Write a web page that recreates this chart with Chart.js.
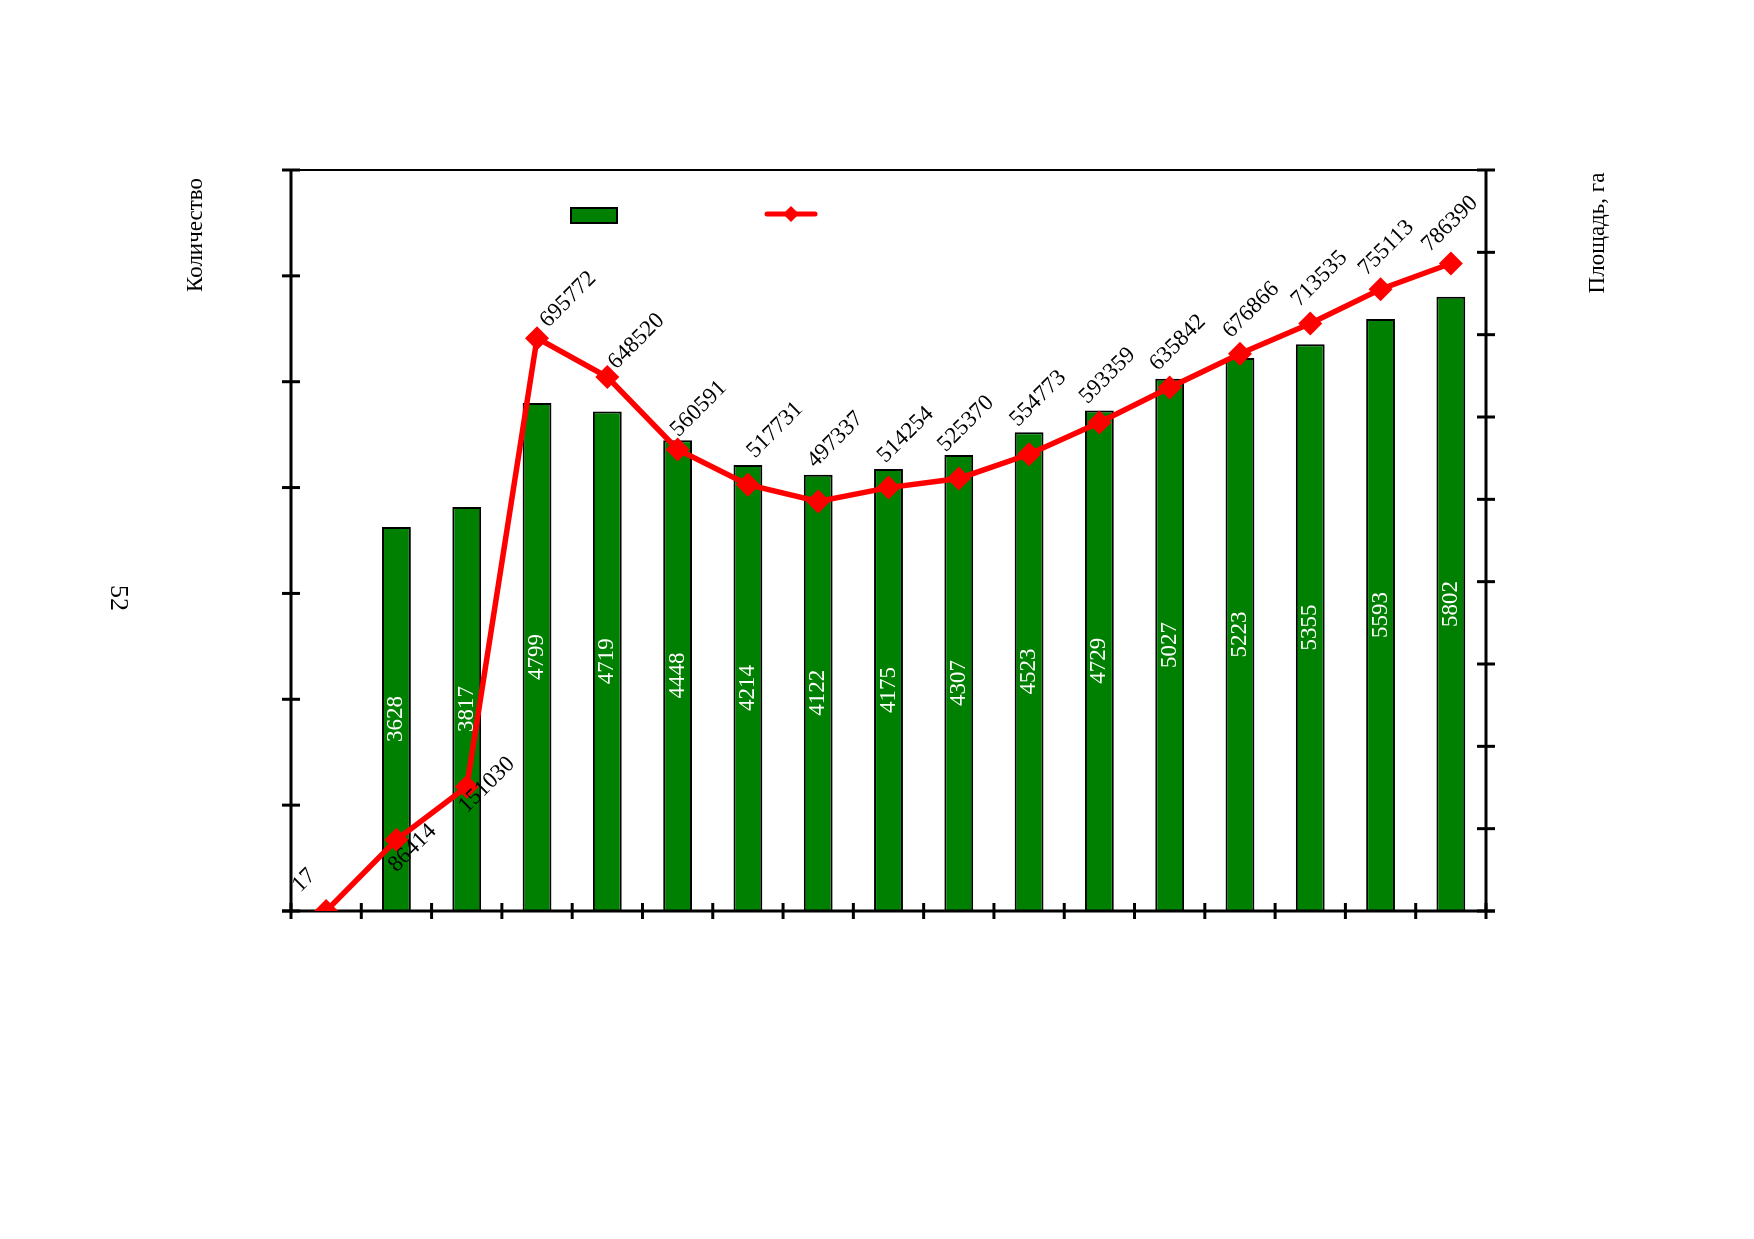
<!DOCTYPE html>
<html lang="ru">
<head>
<meta charset="utf-8">
<title>Количество и площадь</title>
<script src="https://cdn.jsdelivr.net/npm/chart.js@4.4.1/dist/chart.umd.min.js"></script>
<style>
    html, body { margin: 0; padding: 0; background: #fff; }
    #wrap { width: 1754px; height: 1239px; }
</style>
</head>
<body>
<div id="wrap"><canvas id="chart" width="1754" height="1239"></canvas></div>
<script>
// Data (no category labels are printed on the chart)
const categories = ['1', '2', '3', '4', '5', '6', '7', '8', '9', '10', '11', '12', '13', '14', '15', '16', '17'];
const countValues = [null, 3628, 3817, 4799, 4719, 4448, 4214, 4122, 4175, 4307, 4523, 4729, 5027, 5223, 5355, 5593, 5802];
const areaValues = [17, 86414, 151030, 695772, 648520, 560591, 517731, 497337, 514254, 525370, 554773, 593359, 635842, 676866, 713535, 755113, 786390];
const countRange = [0, 7000, 1000];    // min, max, step of the left axis
const areaRange = [0, 900000, 100000]; // min, max, step of the right axis

// Where each area label starts relative to its point (hand placed in the original)
const areaLabelShift = [
    [-26, -18], [0, 33], [0, 27], [11, -10], [9, -7], [1, -12], [7, -26], [-3, -33], [-3, -24],
    [-13, -26], [-11, -27], [-12, -18], [-12, -16], [-9, -15], [-11, -16], [-14, -13], [-21, -11]
];

const SERIF = '"Liberation Serif", "Times New Roman", serif';
const GREEN = '#008000';
const RED = '#ff0000';

function strokeLine(ctx, x1, y1, x2, y2) {
    ctx.beginPath();
    ctx.moveTo(x1, y1);
    ctx.lineTo(x2, y2);
    ctx.stroke();
}

function rotatedText(ctx, text, x, y, angle, font, color, align, baseline) {
    ctx.save();
    ctx.translate(x, y);
    ctx.rotate(angle);
    ctx.font = font;
    ctx.fillStyle = color;
    ctx.textAlign = align || 'center';
    ctx.textBaseline = baseline || 'middle';
    ctx.fillText(text, 0, 0);
    ctx.restore();
}

// Axes with crossing tick marks, drawn right after the bars so the line sits on top
function drawAxes(chart) {
    const ctx = chart.ctx;
    const area = chart.chartArea;
    const xs = chart.scales.x, ys = chart.scales.y, ys2 = chart.scales.y2;
    ctx.save();
    ctx.strokeStyle = '#000';
    ctx.lineWidth = 2;
    strokeLine(ctx, area.left, area.top, area.right, area.top);
    ctx.lineWidth = 3;
    strokeLine(ctx, area.left, area.top - 1, area.left, area.bottom + 1);
    strokeLine(ctx, area.right, area.top - 1, area.right, area.bottom + 1);
    strokeLine(ctx, area.left - 9, area.bottom, area.right + 9, area.bottom);

    ys.ticks.forEach(t => {
        const py = ys.getPixelForValue(t.value);
        strokeLine(ctx, area.left - 9, py, area.left + 9, py);
    });
    ys2.ticks.forEach(t => {
        const py = ys2.getPixelForValue(t.value);
        strokeLine(ctx, area.right - 9, py, area.right + 9, py);
    });
    for (let i = 0; i <= categories.length; i++) {
        const px = xs.getPixelForValue(i - 0.5);
        strokeLine(ctx, px, area.bottom - 8, px, area.bottom + 8);
    }
    ctx.restore();
}

function drawBarLabels(chart) {
    const ctx = chart.ctx;
    chart.getDatasetMeta(0).data.forEach((bar, i) => {
        if (countValues[i] == null) return;
        rotatedText(ctx, String(countValues[i]), bar.x, (bar.y + bar.base) / 2,
            -Math.PI / 2, '23px ' + SERIF, '#fff');
    });
}

function drawLineLabels(chart) {
    const ctx = chart.ctx;
    chart.getDatasetMeta(1).data.forEach((pt, i) => {
        const s = areaLabelShift[i];
        rotatedText(ctx, String(areaValues[i]), pt.x + s[0], pt.y + s[1],
            -Math.PI / 4, '23px ' + SERIF, '#000', 'left', 'alphabetic');
    });
}

// Legend keys without text, as in the original
function drawLegend(chart) {
    const ctx = chart.ctx;
    ctx.save();
    ctx.fillStyle = GREEN;
    ctx.fillRect(571, 208, 46, 15);
    ctx.strokeStyle = '#000';
    ctx.lineWidth = 2;
    ctx.strokeRect(571, 208, 46, 15);

    ctx.strokeStyle = RED;
    ctx.lineWidth = 5;
    ctx.lineCap = 'round';
    strokeLine(ctx, 767, 214, 815, 214);
    ctx.fillStyle = RED;
    ctx.beginPath();
    ctx.moveTo(791, 206);
    ctx.lineTo(799, 214);
    ctx.lineTo(791, 222);
    ctx.lineTo(783, 214);
    ctx.closePath();
    ctx.fill();
    ctx.restore();
}

function drawTitles(chart) {
    const ctx = chart.ctx;
    rotatedText(ctx, 'Количество', 196, 235, -Math.PI / 2, '23px ' + SERIF, '#000');
    rotatedText(ctx, 'Площадь, га', 1598, 233, -Math.PI / 2, '23px ' + SERIF, '#000');
    rotatedText(ctx, '52', 118, 598, Math.PI / 2, '26px ' + SERIF, '#000');
}

const decorPlugin = {
    id: 'decor',
    beforeDraw(chart) {
        const ctx = chart.ctx;
        ctx.save();
        ctx.fillStyle = '#fff';
        ctx.fillRect(0, 0, chart.width, chart.height);
        ctx.restore();
    },
    afterDatasetDraw(chart, args) {
        if (args.index === 0) {
            drawBarLabels(chart);
            drawAxes(chart);
        }
    },
    afterDatasetsDraw(chart) {
        drawLineLabels(chart);
        drawLegend(chart);
        drawTitles(chart);
    }
};

new Chart(document.getElementById('chart'), {
    data: {
        labels: categories,
        datasets: [
            {
                type: 'bar',
                label: 'Количество',
                data: countValues,
                yAxisID: 'y',
                backgroundColor: GREEN,
                borderColor: '#000',
                borderWidth: 2,
                barPercentage: 0.41,
                categoryPercentage: 1.0,
                order: 1
            },
            {
                type: 'line',
                label: 'Площадь, га',
                data: areaValues,
                yAxisID: 'y2',
                borderColor: RED,
                borderWidth: 5.5,
                tension: 0,
                pointStyle: 'rectRot',
                pointRadius: 12,
                pointBackgroundColor: RED,
                pointBorderColor: RED,
                pointBorderWidth: 0,
                order: 0
            }
        ]
    },
    options: {
        responsive: false,
        animation: false,
        devicePixelRatio: 1,
        layout: {
            padding: { left: 291, right: 268, top: 170, bottom: 328 }
        },
        plugins: {
            legend: { display: false },
            tooltip: { enabled: false }
        },
        scales: {
            x: {
                type: 'category',
                offset: true,
                display: false
            },
            y: {
                position: 'left',
                min: countRange[0],
                max: countRange[1],
                ticks: { stepSize: countRange[2] },
                display: false
            },
            y2: {
                position: 'right',
                min: areaRange[0],
                max: areaRange[1],
                ticks: { stepSize: areaRange[2] },
                display: false
            }
        }
    },
    plugins: [decorPlugin]
});
</script>
</body>
</html>
